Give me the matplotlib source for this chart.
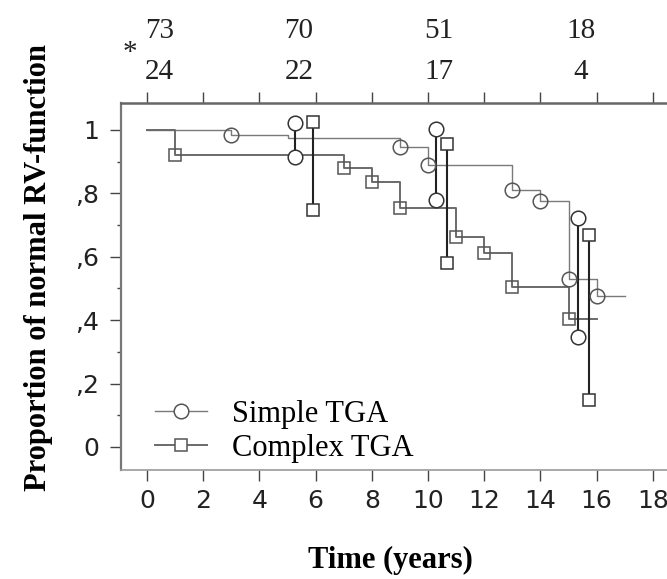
import matplotlib
matplotlib.use("Agg")
import matplotlib.pyplot as plt
from matplotlib.lines import Line2D
from matplotlib.ticker import MultipleLocator, FixedLocator

# Kaplan-Meier style steps (time in years, proportion)
simple_t = [0, 3, 5, 9, 10, 13, 14, 15, 16, 17]
simple_s = [1.0, 0.985, 0.975, 0.945, 0.89, 0.81, 0.775, 0.53, 0.476, 0.476]
simple_mark_t = [3, 9, 10, 13, 14, 15, 16]
simple_mark_s = [0.985, 0.945, 0.89, 0.81, 0.775, 0.53, 0.476]

complex_t = [0, 1, 7, 8, 9, 11, 12, 13, 15, 16]
complex_s = [1.0, 0.92, 0.88, 0.835, 0.755, 0.662, 0.612, 0.505, 0.405, 0.405]
complex_mark_t = [1, 7, 8, 9, 11, 12, 13, 15]
complex_mark_s = [0.92, 0.88, 0.835, 0.755, 0.662, 0.612, 0.505, 0.405]

# confidence bars
simple_ci_t = [5.27, 10.3, 15.34]
simple_ci_lo = [0.915, 0.78, 0.347]
simple_ci_hi = [1.022, 1.003, 0.722]
complex_ci_t = [5.9, 10.66, 15.73]
complex_ci_lo = [0.748, 0.58, 0.148]
complex_ci_hi = [1.025, 0.955, 0.669]

# numbers at risk
risk_t = [0.45, 5.4, 10.4, 15.45]
risk_simple = ["73", "70", "51", "18"]
risk_complex = ["24", "22", "17", "4"]

ytick_vals = [0, 0.2, 0.4, 0.6, 0.8, 1.0]
ytick_labels = ["0", ",2", ",4", ",6", ",8", "1"]

SERIF = "Liberation Serif"
SANS = "DejaVu Sans"

fig = plt.figure(figsize=(6.67, 5.79), dpi=100)
ax = fig.add_axes([121 / 667, 109 / 579, 574 / 667, 367 / 579])

line_simple = "#7a7a7a"
line_complex = "#6a6a6a"
ax.step(simple_t, simple_s, where="post", color=line_simple, lw=1.0, zorder=2)
ax.step(complex_t, complex_s, where="post", color=line_complex, lw=1.4, zorder=2)

for t, lo, hi in zip(simple_ci_t, simple_ci_lo, simple_ci_hi):
    ax.plot([t, t], [lo, hi], color="#222222", lw=1.5, zorder=3)
    ax.plot([t, t], [lo, hi], ls="none", marker="o", ms=10.5, mfc="white",
            mec="#333333", mew=1.1, zorder=4)
for t, lo, hi in zip(complex_ci_t, complex_ci_lo, complex_ci_hi):
    ax.plot([t, t], [lo, hi], color="#222222", lw=1.5, zorder=3)
    ax.plot([t, t], [lo, hi], ls="none", marker="s", ms=9, mfc="white",
            mec="#333333", mew=1.1, zorder=4)

ax.plot(simple_mark_t, simple_mark_s, ls="none", marker="o", ms=10.5,
        mfc="none", mec="#555555", mew=1.1, zorder=4)
ax.plot(complex_mark_t, complex_mark_s, ls="none", marker="s", ms=9,
        mfc="none", mec="#555555", mew=1.1, zorder=4)

ax.set_xlim(-0.925, 19.5)
ax.set_ylim(-0.0726, 1.085)

ax.xaxis.set_major_locator(MultipleLocator(2))
ax.yaxis.set_major_locator(FixedLocator(ytick_vals))
ax.set_yticklabels(ytick_labels)
ax.yaxis.set_minor_locator(MultipleLocator(0.1))
ax.tick_params(axis="x", which="major", direction="out", length=8, width=1.0,
               top=True, labeltop=False, pad=6, labelsize=18,
               color="#444444", labelcolor="#222222")
ax.tick_params(axis="y", which="major", direction="out", length=8, width=1.0,
               pad=8, labelsize=18, color="#444444", labelcolor="#222222")
ax.tick_params(axis="y", which="minor", direction="out", length=3, width=1.0,
               color="#444444")
for lab in ax.get_xticklabels() + ax.get_yticklabels():
    lab.set_family(SANS)

ax.spines["right"].set_visible(False)
ax.spines["top"].set_color("#666666")
ax.spines["top"].set_linewidth(1.8)
ax.spines["left"].set_color("#777777")
ax.spines["left"].set_linewidth(1.6)
ax.spines["bottom"].set_color("#999999")
ax.spines["bottom"].set_linewidth(1.2)

# numbers at risk above the plot
tr = ax.get_xaxis_transform()
for t, a, b in zip(risk_t, risk_simple, risk_complex):
    ax.text(t, 1.197, a, transform=tr, ha="center", va="center",
            fontsize=21, family=SERIF, color="#222222", clip_on=False)
    ax.text(t, 1.085, b, transform=tr, ha="center", va="center",
            fontsize=21, family=SERIF, color="#222222", clip_on=False)
ax.text(-0.6, 1.135, "*", transform=tr, ha="center", va="center",
        fontsize=21, family=SERIF, color="#222222", clip_on=False)

handles = [
    Line2D([], [], color=line_simple, lw=1.0, marker="o", ms=10.5,
           mfc="white", mec="#555555", mew=1.1),
    Line2D([], [], color=line_complex, lw=1.4, marker="s", ms=9,
           mfc="white", mec="#555555", mew=1.1),
]
ax.legend(handles, ["Simple TGA", "Complex TGA"], loc="lower left",
          bbox_to_anchor=(0.06, 0.02), frameon=False, borderpad=0,
          borderaxespad=0, handlelength=1.7, handletextpad=0.8,
          labelspacing=0.15, prop={"family": SERIF, "size": 22})

fig.text(390 / 667, 1 - 560 / 579, "Time (years)", ha="center", va="center",
         fontsize=22, family=SERIF, weight="bold")
fig.text(39 / 667, 1 - 268 / 579, "Proportion of normal RV-function",
         ha="center", va="center", rotation=90, fontsize=22, family=SERIF,
         weight="bold")

fig.savefig("out.png", dpi=100)
